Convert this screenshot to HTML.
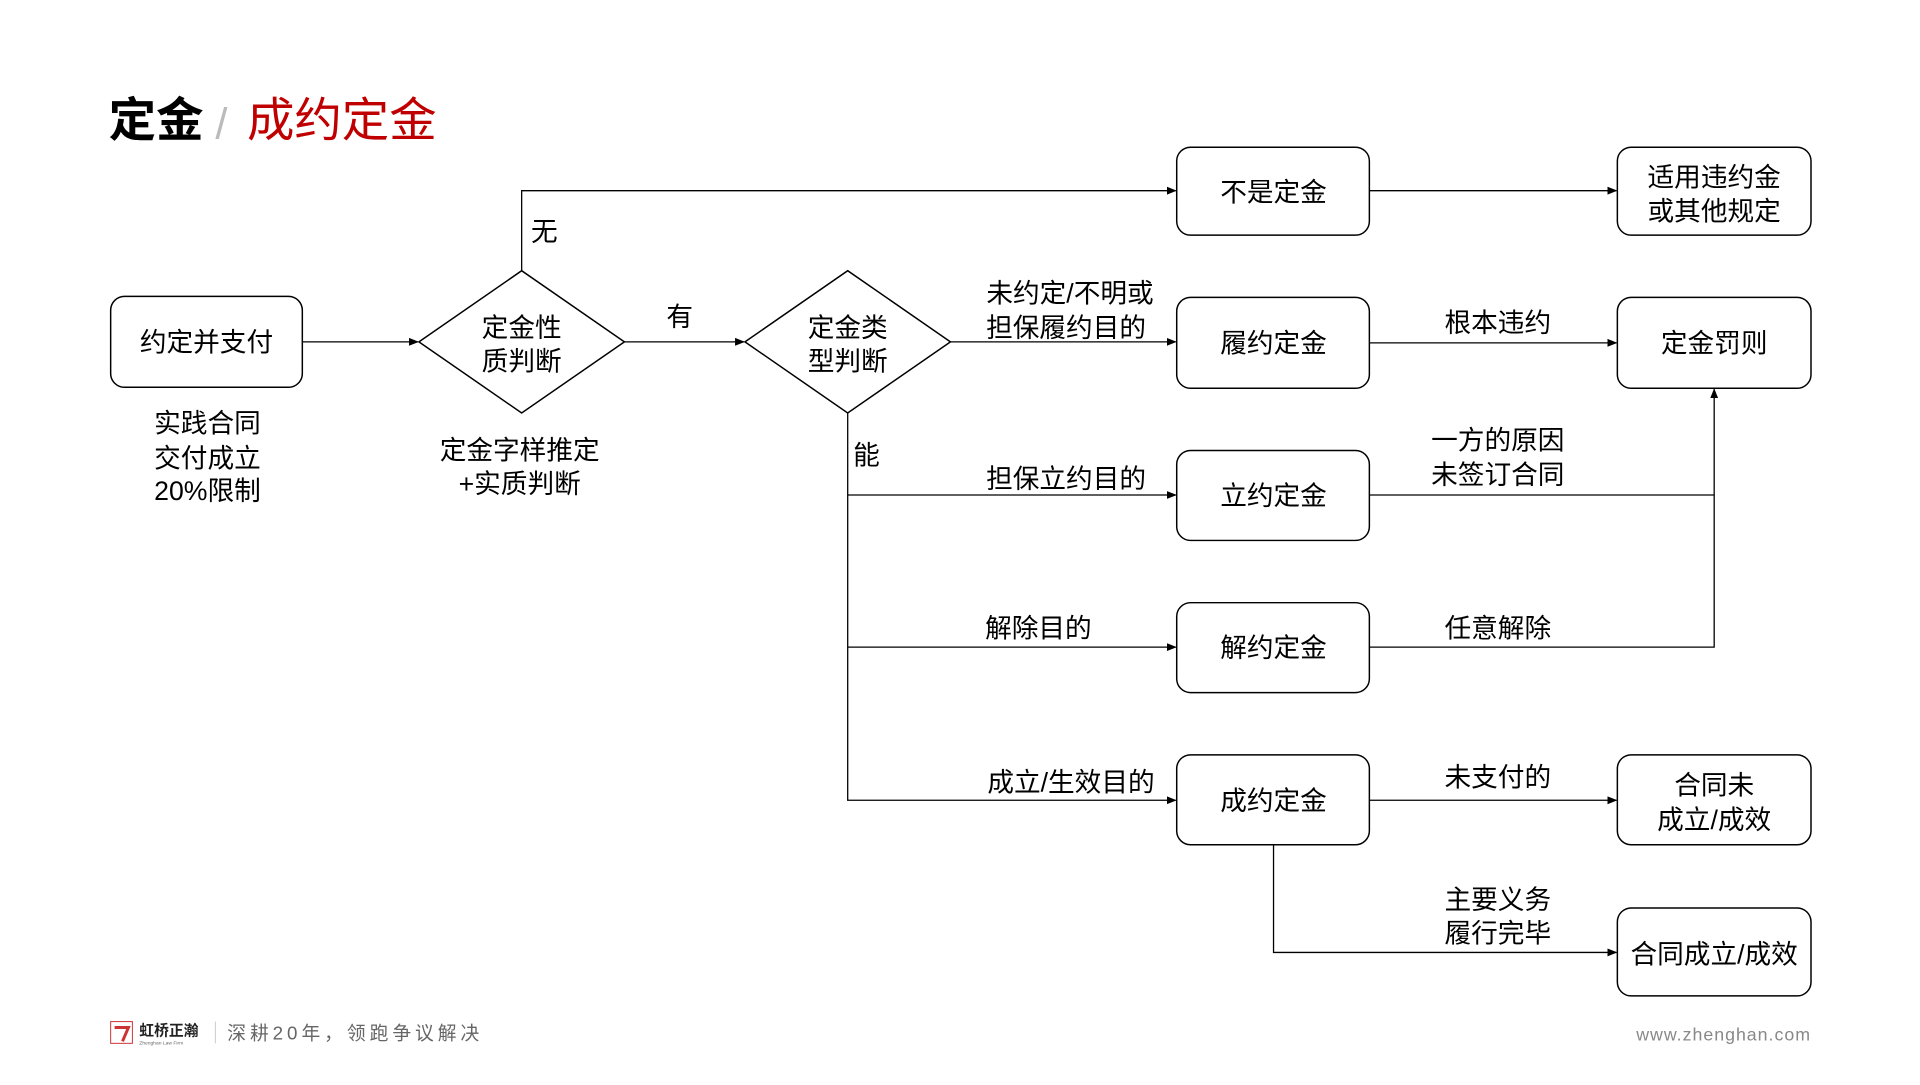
<!DOCTYPE html>
<html><head><meta charset="utf-8"><style>
body{margin:0;width:1920px;height:1080px;background:#fff;overflow:hidden;font-family:"Liberation Sans","Noto Sans CJK SC",sans-serif;}
svg text{font-family:"Liberation Sans","Noto Sans CJK SC",sans-serif;}
</style></head><body>
<svg width="1920" height="1080" xmlns="http://www.w3.org/2000/svg">
<defs><marker id="a" markerWidth="10" markerHeight="10" refX="9" refY="5" orient="auto" markerUnits="userSpaceOnUse"><path d="M0,1 L10,5 L0,9 Z" fill="#000"/></marker></defs>
<g transform="scale(0.988)">
<text x="110" y="138" font-size="48" font-weight="bold" fill="#000">定金</text>
<text x="218" y="140" font-size="44" fill="#bbb">/</text>
<text x="250" y="138" font-size="48" fill="#c00000">成约定金</text>
<g fill="#fff" stroke="#000" stroke-width="1.5">
<rect x="112" y="300" width="194" height="92" rx="14"/>
<polygon points="424,346 528,274 632,346 528,418"/>
<polygon points="754,346 858,274 962,346 858,418"/>
<rect x="1191" y="149" width="195" height="89" rx="14"/>
<rect x="1191" y="301" width="195" height="92" rx="14"/>
<rect x="1191" y="456" width="195" height="91" rx="14"/>
<rect x="1191" y="610" width="195" height="91" rx="14"/>
<rect x="1191" y="764" width="195" height="91" rx="14"/>
<rect x="1637" y="149" width="196" height="89" rx="14"/>
<rect x="1637" y="301" width="196" height="92" rx="14"/>
<rect x="1637" y="764" width="196" height="91" rx="14"/>
<rect x="1637" y="919" width="196" height="89" rx="14"/>
</g>
<g fill="none" stroke="#000" stroke-width="1.3" marker-end="url(#a)">
<path d="M306,346 H423"/>
<path d="M632,346 H753"/>
<path d="M528,274 V193 H1190"/>
<path d="M1386,193 H1636"/>
<path d="M962,346 H1190"/>
<path d="M1386,347 H1636"/>
<path d="M858,418 V810 H1190"/>
<path d="M858,501 H1190"/>
<path d="M858,655 H1190"/>
<path d="M1386,810 H1636"/>
<path d="M1289,855 V964 H1636"/>
<path d="M1386,655 H1735 V394"/>
</g>
<path d="M1386,501 H1735" stroke="#000" stroke-width="1.3"/>
<g font-size="27" text-anchor="middle" fill="#000">
<text x="209" y="356">约定并支付</text>
<text x="528" y="341">定金性</text><text x="528" y="375">质判断</text>
<text x="858" y="341">定金类</text><text x="858" y="375">型判断</text>
<text x="1289" y="204">不是定金</text>
<text x="1289" y="357">履约定金</text>
<text x="1289" y="511">立约定金</text>
<text x="1289" y="665">解约定金</text>
<text x="1289" y="820">成约定金</text>
<text x="1735" y="189">适用违约金</text><text x="1735" y="223">或其他规定</text>
<text x="1735" y="357">定金罚则</text>
<text x="1735" y="804">合同未</text><text x="1735" y="839">成立/成效</text>
<text x="1735" y="975">合同成立/成效</text>
<text x="551" y="244">无</text>
<text x="688" y="330">有</text>
<text x="877" y="470">能</text>
<text x="1083" y="306">未约定/不明或</text>
<text x="1079" y="341">担保履约目的</text>
<text x="1079" y="494">担保立约目的</text>
<text x="1051" y="645">解除目的</text>
<text x="1084" y="801">成立/生效目的</text>
<text x="1516" y="336">根本违约</text>
<text x="1516" y="455">一方的原因</text>
<text x="1516" y="490">未签订合同</text>
<text x="1516" y="645">任意解除</text>
<text x="1516" y="796">未支付的</text>
<text x="1516" y="920">主要义务</text>
<text x="1516" y="954">履行完毕</text>
<text x="210" y="438">实践合同</text>
<text x="210" y="473">交付成立</text>
<text x="210" y="506">20%限制</text>
<text x="526" y="465">定金字样推定</text>
<text x="526" y="499">+实质判断</text>
</g>
<rect x="112" y="1034" width="22" height="22" fill="#fff" stroke="#c33" stroke-width="1"/>
<path d="M116,1040 H130 L124,1054" stroke="#c33" stroke-width="3" fill="none"/>
<text x="141" y="1048" font-size="15" font-weight="bold" fill="#222">虹桥正瀚</text>
<text x="141" y="1057" font-size="5" fill="#666">Zhenghan Law Firm</text>
<line x1="218" y1="1034" x2="218" y2="1056" stroke="#ccc"/>
<text x="230" y="1052" font-size="19" fill="#666" letter-spacing="4">深耕20年，领跑争议解决</text>
<text x="1833" y="1053" font-size="18" fill="#888" text-anchor="end" letter-spacing="1">www.zhenghan.com</text>
</g>
</svg>
</body></html>
